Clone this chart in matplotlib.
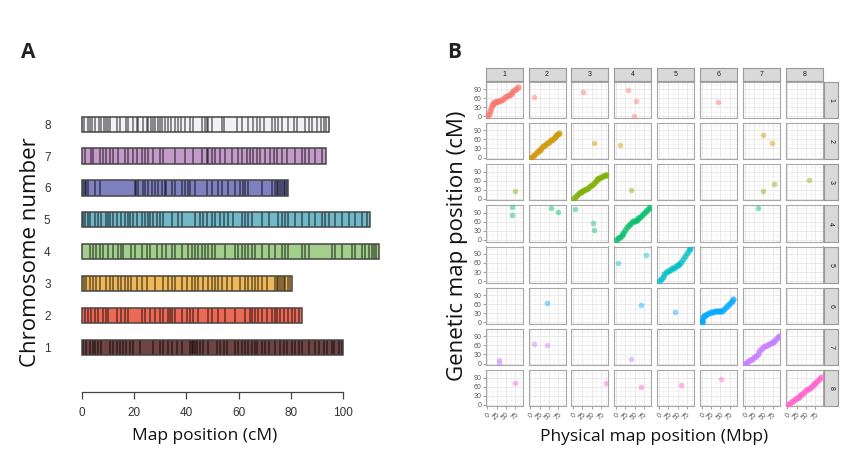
import matplotlib
matplotlib.use('Agg')
import matplotlib.pyplot as plt
from matplotlib.patches import Rectangle

# ---------------- Panel A data ----------------
chrom_ids = [1, 2, 3, 4, 5, 6, 7, 8]
chrom_lengths_cm = [100, 84.2, 80.5, 113.6, 110, 79, 93.4, 94.4]
chrom_colors = ['#6e4444', '#ec6a55', '#efb95a', '#a2d08c', '#72b8c9', '#7f80c0', '#c49ac8', '#f2f2f6']

markers_chr1 = [0.5, 1.8, 3.1, 4.3, 5, 6.3, 7.5, 10.7, 12, 13.3, 14.6, 15.8, 17.1, 18.4, 19.7, 22.2, 27.3,
                29.9, 31.2, 33.1, 34.4, 36.3, 38.2, 41.4, 42, 42.7, 43.3, 43.9, 45.2, 46.5, 48.4, 51.6, 52.9,
                54.2, 55.4, 58.6, 59.9, 61.2, 62.4, 63.7, 65, 66.3, 66.9, 68.8, 70.1, 71.4, 73.9, 75.9, 77.2,
                78.4, 80.3, 81.6, 82.9, 84.2, 86.7, 89.3, 90.5, 92.5, 93.7, 95.7, 96.3, 98.2, 99.5]
markers_chr2 = [1.1, 2.4, 3.7, 5, 6.3, 8.2, 9.4, 10.1, 13.3, 15.2, 16.5, 17.8, 22.9, 24.1, 26.1, 28, 29.9,
                31.2, 33.1, 33.7, 34.4, 35.6, 38.2, 40.1, 41.4, 42.7, 44.6, 48.4, 49.7, 52.2, 54.8, 58.6,
                62.4, 64.4, 65, 66.3, 67.5, 68.8, 70.8, 72.7, 74, 74.6, 75.9, 77.2, 79, 80.3, 81.6, 82.9]
markers_chr3 = [0.9, 1.8, 3.1, 4.3, 5.6, 6.9, 9.4, 10.7, 12, 13.9, 15.2, 16.5, 17.8, 19, 21, 22.9, 24.8,
                28, 31.2, 33.1, 34.4, 35.6, 38.2, 40.1, 42, 43.3, 44.6, 46.5, 48.4, 49.7, 51, 52.2, 53.5,
                55.4, 57.3, 60.5, 62.4, 63.7, 65, 66.3, 67.5, 68.8, 70.8, 73.9, 74.6, 75.2, 75.9, 76.5,
                77.2, 77.8, 79, 79.7]
markers_chr4 = [3.1, 4.3, 5.6, 6.9, 8.2, 10.1, 12, 13.9, 15.2, 15.8, 19, 20.3, 22.9, 24.8, 26.1, 28.6,
                30.5, 32.4, 34.4, 35.6, 38.2, 40.7, 42, 43.3, 44.6, 45.9, 47.1, 48.4, 49.7, 51, 54.8, 58.6,
                59.9, 61.2, 62.4, 63.7, 65, 66.3, 68.8, 71.4, 73.9, 76.5, 77.8, 79, 84.2, 85.4, 86.7, 95.7,
                96.9, 99.5, 103.3, 104.6, 107.2, 108.4, 109.7, 111, 111.6, 112.5]
markers_chr5 = [0.5, 1.1, 2.4, 3.1, 5, 6.3, 7.5, 9.4, 10.1, 10.7, 12, 13.3, 15.2, 16.5, 17.8, 18.4, 19.7,
                21, 22.9, 24.1, 25.4, 26.1, 27.3, 28.6, 29.9, 31.2, 34.4, 36.9, 38.2, 43.3, 45.2, 46.5,
                47.8, 49.7, 51, 52.9, 54.2, 56, 58, 61.2, 62.4, 63.7, 65, 68.8, 71.4, 75.2, 76.5, 77.8, 79,
                81.6, 84.2, 86.7, 89.3, 91.8, 93.1, 94.4, 96.9, 99.5, 102, 104.6, 107.2, 109.1]
markers_chr6 = [0.5, 1.2, 1.8, 2.4, 5, 6.9, 20.3, 20.9, 21.6, 23.5, 24.1, 25.4, 26.7, 28, 29.2, 30.5,
                31.8, 32.4, 34.4, 35.6, 38.2, 39.5, 40.7, 41.4, 43.3, 47.8, 49.7, 52.2, 53.5, 56, 58.6,
                60.5, 61.8, 62.4, 63.7, 68.8, 72.7, 74, 74.6, 75.2, 75.9, 76.5, 77.2, 77.8, 78.4]
markers_chr7 = [1.1, 3.4, 4.3, 6.9, 8.2, 9.4, 10.7, 12, 13.9, 16.5, 17.8, 19.7, 21, 22.9, 24.1, 25.4,
                27.3, 29.9, 31.2, 35.6, 39.5, 42.7, 45.9, 47.8, 48.4, 49.7, 51, 52.9, 54.8, 57.3, 59.9,
                61.2, 63.1, 64.4, 65.6, 66.9, 68.2, 70.1, 72, 73.3, 74.6, 76.5, 78.4, 81.6, 84.2, 85.4,
                86.7, 89.3, 91.8]
markers_chr8 = [1, 2.3, 3.1, 4, 5, 6.5, 7.5, 8.6, 9.4, 10, 10.7, 13.3, 14.6, 17, 17.8, 19.7, 21, 21.6,
                23.5, 24.8, 25.4, 26.4, 27.3, 28, 29, 29.9, 30.8, 31.8, 33, 34.3, 35.6, 36.9, 37.9, 39.5,
                41.4, 42.7, 45.9, 47.1, 47.8, 48.4, 49.7, 53.5, 54.5, 59.3, 61.2, 63.7, 65.6, 66.9, 68.2,
                69.5, 72.7, 74, 75.2, 76.5, 79, 81, 82.3, 85.4, 86.7, 88, 89.9, 91.6, 92.5, 93.4]
markers_all = [markers_chr1, markers_chr2, markers_chr3, markers_chr4,
               markers_chr5, markers_chr6, markers_chr7, markers_chr8]
xticks_a = [0, 20, 40, 60, 80, 100]

# ---------------- Panel B data ----------------
facet_labels = ['1', '2', '3', '4', '5', '6', '7', '8']
facet_colors = ['#F8766D', '#CD9600', '#7CAE00', '#00BE67', '#00BFC4', '#00A9FF', '#C77CFF', '#FF61CC']

diag_mbp = [
    [0, 3, 6, 9, 12, 15, 18, 22, 27, 32, 37, 42, 47, 52, 57, 62, 67, 72, 77, 81],
    [0, 5, 10, 15, 20, 25, 30, 35, 40, 45, 50, 55, 60, 65, 70, 75, 78],
    [0, 5, 10, 15, 20, 25, 30, 35, 40, 45, 50, 55, 60, 65, 70, 75, 80, 85, 90],
    [0, 5, 10, 15, 20, 25, 30, 35, 40, 45, 50, 55, 60, 65, 70, 75, 80, 85, 90],
    [0, 5, 10, 15, 20, 25, 30, 35, 40, 45, 50, 55, 60, 65, 70, 75, 80, 83],
    [0, 1, 2, 3, 5, 10, 15, 20, 25, 30, 35, 40, 45, 50, 55, 60, 65, 70, 75, 80, 84],
    [0, 5, 10, 15, 20, 25, 30, 35, 40, 45, 50, 55, 60, 65, 70, 75, 80, 85, 90, 92],
    [0, 5, 10, 15, 20, 25, 30, 35, 40, 45, 50, 55, 60, 65, 70, 75, 80, 85, 90],
]
diag_cm = [
    [0, 8, 18, 28, 36, 42, 46, 49, 51, 52, 54, 58, 63, 67, 71, 75, 80, 86, 91, 96],
    [0, 3, 8, 14, 20, 26, 32, 37, 42, 47, 52, 57, 62, 68, 73, 78, 82],
    [0, 6, 13, 18, 22, 26, 29, 32, 36, 41, 47, 53, 59, 64, 68, 72, 75, 78, 80],
    [0, 5, 11, 17, 24, 32, 42, 50, 56, 61, 64, 67, 71, 76, 82, 89, 96, 103, 109],
    [0, 7, 14, 22, 30, 35, 38, 42, 45, 49, 53, 58, 64, 72, 82, 94, 104, 109],
    [0, 2, 8, 17, 21, 25, 28, 31, 33, 35, 36, 37, 37, 38, 39, 43, 50, 57, 65, 72, 76],
    [0, 3, 7, 11, 15, 20, 26, 33, 41, 48, 54, 58, 62, 65, 68, 71, 75, 80, 87, 91],
    [0, 4, 9, 13, 18, 22, 27, 32, 37, 43, 48, 51, 55, 61, 67, 73, 79, 85, 92],
]
# off-diagonal markers: genetic chromosome (row), physical chromosome (column)
off_gen_chr = [1, 1, 1, 1, 1, 1, 2, 2, 2, 2, 3, 3, 3, 3, 3, 4, 4, 4, 4, 4, 4, 4, 4,
               5, 5, 6, 6, 6, 7, 7, 7, 7, 7, 8, 8, 8, 8, 8]
off_phys_chr = [2, 3, 4, 4, 4, 6, 3, 4, 7, 7, 1, 4, 7, 7, 8, 1, 1, 2, 2, 3, 3, 3, 7,
                4, 4, 2, 4, 5, 1, 1, 2, 2, 4, 1, 3, 4, 5, 6]
off_mbp = [11, 26, 33, 53, 48, 44, 56, 9.5, 50, 74, 75, 41, 49, 79, 59, 65, 66, 55, 73, 6, 52, 56, 35,
           5, 80, 45, 67, 43, 31, 31, 11, 44, 41, 75, 88.5, 67, 59.5, 51]
off_cm = [63, 80, 88, 51, 0, 48, 47, 42, 75, 49, 26, 30, 26, 49, 61, 108, 83, 106, 94, 103, 57, 33, 105,
          59, 87, 63, 56, 35, 11, 2, 64, 60, 14, 72, 72, 58, 64, 84]
xticks_b = [0, 25, 50, 75]
yticks_b = [0, 30, 60, 90]

# ---------------- Figure ----------------
W, H = 868, 468
fig = plt.figure(figsize=(W / 100, H / 100), dpi=100)
fig.patch.set_facecolor('white')


def ax_px(x0, y0, x1, y1):
    return fig.add_axes([x0 / W, 1 - y1 / H, (x1 - x0) / W, (y1 - y0) / H])


# ---- Panel A ----
axA = ax_px(70, 100, 385, 391.7)
bar_h = 0.48
for k, L, col, marks in zip(chrom_ids, chrom_lengths_cm, chrom_colors, markers_all):
    axA.add_patch(Rectangle((0, k - bar_h / 2), L, bar_h, facecolor=col, edgecolor='none', zorder=1))
    axA.vlines(marks, k - bar_h / 2, k + bar_h / 2, colors='black', alpha=0.5, lw=1.25, zorder=2)
    axA.add_patch(Rectangle((0, k - bar_h / 2), L, bar_h, facecolor='none', edgecolor='#454545',
                            lw=1.1, zorder=3))
axA.set_xlim(-4.47, 115.9)
axA.set_ylim(-0.394, 8.76)
for s in ['top', 'right', 'left']:
    axA.spines[s].set_visible(False)
axA.spines['bottom'].set_bounds(0, 100)
axA.spines['bottom'].set_color('#444444')
axA.spines['bottom'].set_linewidth(0.9)
axA.set_xticks(xticks_a)
axA.set_xticklabels([str(v) for v in xticks_a], family='Liberation Sans', fontsize=8.5, color='#333333')
axA.tick_params(axis='x', direction='out', length=5, width=0.9, color='#444444', pad=6)
axA.set_yticks(chrom_ids)
axA.set_yticklabels([str(v) for v in chrom_ids], family='Liberation Sans', fontsize=8.5, color='#333333')
axA.tick_params(axis='y', length=0, pad=14)
axA.set_facecolor('none')

fig.text(205 / W, 1 - 436 / H, 'Map position (cM)', family='Open Sans', fontsize=12.5,
         ha='center', va='center', color='#111111')
fig.text(30 / W, 1 - 252 / H, 'Chromosome number', family='Open Sans', fontsize=16,
         ha='center', va='center', rotation=90, color='#111111')
fig.text(28 / W, 1 - 52 / H, 'A', family='Open Sans', fontsize=15, fontweight='bold',
         ha='center', va='center', color='#222222')

# ---- Panel B ----
col_left0, col_pitch, pw = 485.7, 42.86, 37.0
row_top0, row_pitch, ph = 81.7, 41.2, 36.3
grid_major = '#e6e6e6'
grid_minor = '#f0f0f0'
for i in range(8):
    for j in range(8):
        x0 = col_left0 + j * col_pitch
        y0 = row_top0 + i * row_pitch
        ax = ax_px(x0, y0, x0 + pw, y0 + ph)
        ax.set_xlim(-4.5, 94.5)
        ax.set_ylim(-5.5, 114.5)
        for v in [12.5, 37.5, 62.5, 87.5]:
            ax.axvline(v, color=grid_minor, lw=0.4, zorder=0)
        for v in [15, 45, 75, 105]:
            ax.axhline(v, color=grid_minor, lw=0.4, zorder=0)
        for v in xticks_b:
            ax.axvline(v, color=grid_major, lw=0.6, zorder=0)
        for v in yticks_b:
            ax.axhline(v, color=grid_major, lw=0.6, zorder=0)
        for s in ax.spines.values():
            s.set_color('#a8a8a8')
            s.set_linewidth(0.8)
        ax.set_xticks(xticks_b)
        ax.set_yticks(yticks_b)
        if j == 0:
            ax.set_yticklabels([str(v) for v in yticks_b], fontsize=5, color='#555555',
                               family='Liberation Sans')
            ax.tick_params(axis='y', length=2, width=0.5, color='#777777', pad=1)
        else:
            ax.set_yticklabels([])
            ax.tick_params(axis='y', length=0)
        if i == 7:
            ax.set_xticklabels([str(v) for v in xticks_b], fontsize=5, color='#555555',
                               family='Liberation Sans', rotation=45, ha='right',
                               rotation_mode='anchor')
            ax.tick_params(axis='x', length=2, width=0.5, color='#777777', pad=1.5)
        else:
            ax.set_xticklabels([])
            ax.tick_params(axis='x', length=0)
        if i == j:
            ax.scatter(diag_mbp[i], diag_cm[i], s=20, color=facet_colors[i], alpha=0.7,
                       lw=0, zorder=3)
        xs = [m for g, p, m in zip(off_gen_chr, off_phys_chr, off_mbp) if g == i + 1 and p == j + 1]
        ys = [c for g, p, c in zip(off_gen_chr, off_phys_chr, off_cm) if g == i + 1 and p == j + 1]
        if xs:
            ax.scatter(xs, ys, s=16, color=facet_colors[i], alpha=0.45, lw=0, zorder=3)

# top strips
for j in range(8):
    x0 = col_left0 + j * col_pitch
    sa = ax_px(x0, 67.5, x0 + pw, 81.0)
    sa.set_facecolor('#d9d9d9')
    sa.set_xticks([])
    sa.set_yticks([])
    for s in sa.spines.values():
        s.set_color('#999999')
        s.set_linewidth(0.8)
    sa.text(0.5, 0.5, facet_labels[j], transform=sa.transAxes, ha='center', va='center',
            fontsize=5, color='#1a1a1a', family='Liberation Sans')
# right strips
for i in range(8):
    y0 = row_top0 + i * row_pitch
    sa = ax_px(824.0, y0, 837.7, y0 + ph)
    sa.set_facecolor('#d9d9d9')
    sa.set_xticks([])
    sa.set_yticks([])
    for s in sa.spines.values():
        s.set_color('#999999')
        s.set_linewidth(0.8)
    sa.text(0.5, 0.5, facet_labels[i], transform=sa.transAxes, ha='center', va='center',
            fontsize=5, color='#1a1a1a', rotation=270, family='Liberation Sans')

fig.text(654 / W, 1 - 437 / H, 'Physical map position (Mbp)', family='Open Sans', fontsize=12.5,
         ha='center', va='center', color='#111111')
fig.text(458 / W, 1 - 246 / H, 'Genetic map position (cM)', family='Open Sans', fontsize=16,
         ha='center', va='center', rotation=90, color='#111111')
fig.text(454 / W, 1 - 52 / H, 'B', family='Open Sans', fontsize=15, fontweight='bold',
         ha='center', va='center', color='#222222')

fig.savefig('out.png', dpi=100, facecolor='white')
